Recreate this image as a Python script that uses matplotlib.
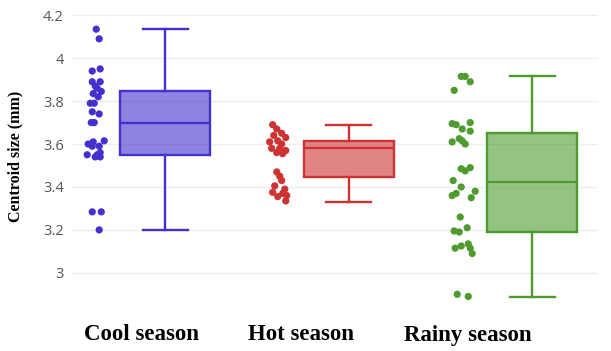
import matplotlib
matplotlib.use("Agg")
import matplotlib.pyplot as plt

# season labels and colours
seasons = ["Cool season", "Hot season", "Rainy season"]
line_colors = ["#4330cf", "#cd3333", "#4f9b2f"]

# box summaries
q1 = [3.55, 3.445, 3.192]
medians = [3.70, 3.582, 3.424]
q3 = [3.845, 3.613, 3.65]
whisker_low = [3.20, 3.332, 2.887]
whisker_high = [4.135, 3.689, 3.915]

# individual measurements (mm) and their jitter (-1..1)
cool_values = [4.135, 4.09, 3.95, 3.94, 3.89, 3.89, 3.87, 3.86, 3.845, 3.835,
               3.82, 3.79, 3.79, 3.75, 3.74, 3.70, 3.70, 3.615, 3.61, 3.60,
               3.59, 3.59, 3.56, 3.55, 3.55, 3.54, 3.54, 3.284, 3.284, 3.20]
cool_jitter = [0.09, 0.36, 0.45, -0.27, -0.27, 0.45, 0.0, 0.18, 0.55, -0.18,
               0.27, -0.45, -0.09, -0.27, 0.36, -0.36, -0.09, 0.82, -0.18, -0.64,
               -0.27, 0.36, 0.45, -0.73, 0.18, 0.0, 0.45, -0.27, 0.55, 0.36]

hot_values = [3.69, 3.67, 3.65, 3.64, 3.63, 3.615, 3.61, 3.60, 3.58, 3.58,
              3.57, 3.56, 3.555, 3.47, 3.45, 3.43, 3.405, 3.39, 3.375, 3.37,
              3.36, 3.355, 3.335]
hot_jitter = [-0.55, -0.18, 0.27, -0.45, 0.64, -0.09, -0.82, 0.27, -0.64, 0.09,
              0.64, -0.18, 0.36, -0.18, 0.09, 0.27, -0.36, 0.55, -0.55, 0.36,
              0.73, -0.09, 0.64]

rainy_values = [3.915, 3.915, 3.89, 3.85, 3.70, 3.695, 3.69, 3.67, 3.66, 3.625,
                3.615, 3.61, 3.60, 3.49, 3.485, 3.475, 3.43, 3.40, 3.38, 3.37,
                3.36, 3.35, 3.26, 3.21, 3.195, 3.19, 3.135, 3.125, 3.115, 3.115,
                3.09, 2.90, 2.89]
rainy_jitter = [-0.09, 0.27, 0.73, -0.73, 0.73, -0.91, -0.55, 0.0, 0.73, -0.27,
                0.0, -0.91, 0.27, 0.73, -0.09, 0.27, -0.82, -0.09, 1.18, -0.55,
                -0.91, 0.82, -0.18, 0.45, -0.73, -0.27, 0.55, -0.09, -0.64, 0.73,
                0.91, -0.45, 0.55]

y_ticks = [3.0, 3.2, 3.4, 3.6, 3.8, 4.0, 4.2]
y_tick_labels = ["3", "3.2", "3.4", "3.6", "3.8", "4", "4.2"]

values = [cool_values, hot_values, rainy_values]
jitters = [cool_jitter, hot_jitter, rainy_jitter]

fig = plt.figure(figsize=(6.11, 3.51), dpi=100)
ax = fig.add_axes([0.118, 0.134, 0.861, 0.841])

stats = []
for i in range(3):
    stats.append({"med": medians[i], "q1": q1[i], "q3": q3[i],
                  "whislo": whisker_low[i], "whishi": whisker_high[i],
                  "fliers": []})

for i, s in enumerate(stats):
    c = line_colors[i]
    ax.bxp([s], positions=[i], widths=0.49, patch_artist=True, showfliers=False,
           boxprops=dict(facecolor=c + "99", edgecolor=c, linewidth=1.7),
           medianprops=dict(color=c, linewidth=1.7),
           whiskerprops=dict(color=c, linewidth=1.7),
           capprops=dict(color=c, linewidth=1.7),
           capwidths=0.245, zorder=3)
    xs = [i - 0.381 + 0.06 * j for j in jitters[i]]
    ax.scatter(xs, values[i], s=27, color=c, edgecolors="none", zorder=4)

ax.set_xlim(-0.507, 2.36)
ax.set_ylim(2.855, 4.23)
ax.set_yticks(y_ticks)
ax.set_yticklabels(y_tick_labels, fontsize=10.5, color="#555555",
                   family="Open Sans")
ax.set_xticks([])
ax.tick_params(axis="y", length=0, pad=6)
ax.grid(axis="y", color="#eeeeee", linewidth=1)
ax.set_axisbelow(True)
for sp in ax.spines.values():
    sp.set_visible(False)

ax.set_ylabel("Centroid size (mm)", family="Liberation Serif", fontweight="bold",
              fontsize=11.5, labelpad=14)

label_x = [142, 301, 468]
for name, px in zip(seasons, label_x):
    fig.text(px / 611, 1 - 335 / 351, name, ha="center", va="center",
             family="Liberation Serif", fontweight="bold", fontsize=16.5)

fig.savefig("out.png", dpi=100, facecolor="white")
